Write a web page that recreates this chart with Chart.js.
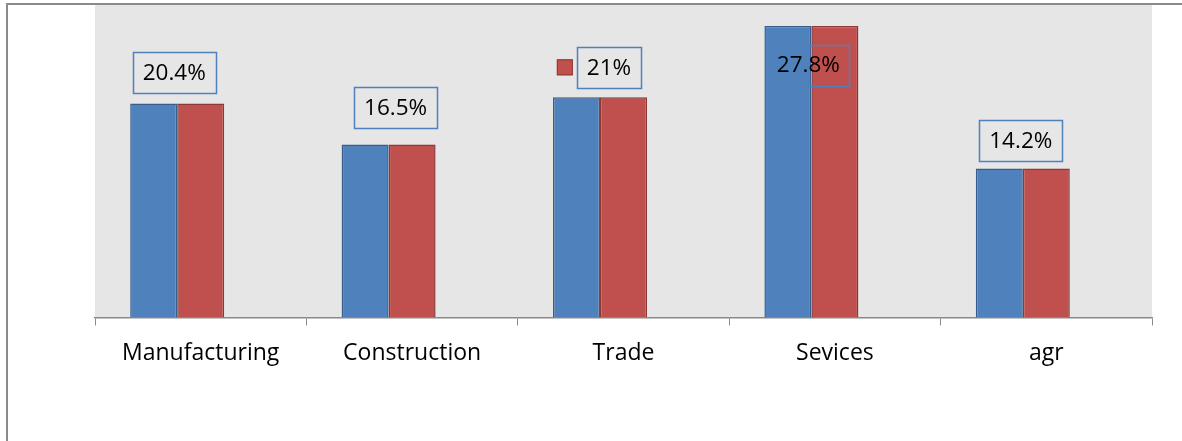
<!DOCTYPE html>
<html>
<head>
<meta charset="utf-8">
<script src="https://cdn.jsdelivr.net/npm/chart.js@4.4.1/dist/chart.umd.min.js"></script>
<style>
  html, body { margin: 0; padding: 0; background: #fff; }
  #wrap { width: 1182px; height: 441px; }
</style>
</head>
<body>
<div id="wrap"><canvas id="sectorChart" width="1182" height="441"></canvas></div>
<script>
const categories = ["Manufacturing", "Construction", "Trade", "Sevices", "agr"];
const series1 = [20.4, 16.5, 21, 27.8, 14.2];
const series2 = [20.4, 16.5, 21, 27.8, 14.2];
const series3 = [null, null, null, null, null]; // empty third series, keeps the bars off-centre
const valueLabels = ["20.4%", "16.5%", "21%", "27.8%", "14.2%"];

// hand-placed label boxes, relative to the blue/red join and the bar top
const labelPlacement = [
  { dx: -3, dy: -31 },
  { dx: 7, dy: -37 },
  { dx: 9, dy: -30, key: true },
  { dx: -3, dy: 39, boxDx: 21, boxW: 40 },
  { dx: -2, dy: -28 }
];

const FONT = "'Open Sans', 'Noto Sans', sans-serif";

const frame = {
  id: "frame",
  beforeDraw(chart) {
    const { ctx, chartArea } = chart;
    ctx.save();
    ctx.fillStyle = "#e6e6e6";
    ctx.fillRect(chartArea.left, 5, chartArea.right - chartArea.left, chartArea.bottom - 5);
    ctx.restore();
  },
  afterDraw(chart) {
    const ctx = chart.ctx;
    ctx.save();
    ctx.strokeStyle = "#8a8a8a";
    ctx.lineWidth = 2;
    ctx.beginPath();
    ctx.moveTo(7, 441);
    ctx.lineTo(7, 4);
    ctx.lineTo(1182, 4);
    ctx.stroke();
    ctx.restore();
  }
};

const boxLabels = {
  id: "boxLabels",
  afterDatasetsDraw(chart) {
    const ctx = chart.ctx;
    const m0 = chart.getDatasetMeta(0).data;
    const m1 = chart.getDatasetMeta(1).data;
    ctx.save();
    ctx.font = "22.5px " + FONT;
    ctx.textAlign = "center";
    ctx.textBaseline = "middle";
    valueLabels.forEach((txt, i) => {
      const p = labelPlacement[i];
      const joinX = (m0[i].x + m1[i].x) / 2;
      const top = Math.min(m0[i].y, m1[i].y);
      const cx = joinX + p.dx;
      const cy = top + p.dy;
      const tw = ctx.measureText(txt).width;
      const bw = p.boxW || tw + 20;
      const bh = 41;
      const bx = cx + (p.boxDx || 0) - bw / 2;
      ctx.strokeStyle = "#4f81bd";
      ctx.lineWidth = 1.5;
      ctx.strokeRect(Math.round(bx) + 0.5, Math.round(cy - bh / 2) + 0.5, Math.round(bw), bh);
      if (p.key) {
        const kx = bx - 20;
        ctx.fillStyle = "#c0504d";
        ctx.fillRect(kx, cy - 8, 16, 16);
        ctx.strokeStyle = "#8c3836";
        ctx.lineWidth = 1;
        ctx.strokeRect(kx + 0.5, cy - 7.5, 15, 15);
      }
      ctx.fillStyle = "#000";
      ctx.fillText(txt, cx, cy + 1);
    });
    ctx.restore();
  }
};

new Chart(document.getElementById("sectorChart"), {
  type: "bar",
  data: {
    labels: categories,
    datasets: [
      {
        label: "Series1",
        data: series1,
        backgroundColor: "#4f81bd",
        borderColor: "#385d8a",
        borderWidth: 1.5
      },
      {
        label: "Series2",
        data: series2,
        backgroundColor: "#c0504d",
        borderColor: "#8c3836",
        borderWidth: 1.5
      },
      {
        label: "Series3",
        data: series3,
        backgroundColor: "#9bbb59"
      }
    ]
  },
  options: {
    responsive: false,
    animation: false,
    maintainAspectRatio: false,
    categoryPercentage: 0.667,
    barPercentage: 1,
    layout: { padding: { left: 95, right: 30, top: 3, bottom: 60 } },
    scales: {
      x: {
        grid: {
          offset: true,
          drawOnChartArea: false,
          drawTicks: true,
          tickLength: 8,
          color: "#8a8a8a"
        },
        border: { display: true, color: "#8a8a8a", width: 1.5 },
        ticks: {
          color: "#000",
          padding: 14,
          font: { family: FONT, size: 23 }
        }
      },
      y: {
        display: false,
        min: 0,
        max: 30
      }
    },
    plugins: {
      legend: { display: false },
      tooltip: { enabled: false }
    }
  },
  plugins: [frame, boxLabels]
});
</script>
</body>
</html>
